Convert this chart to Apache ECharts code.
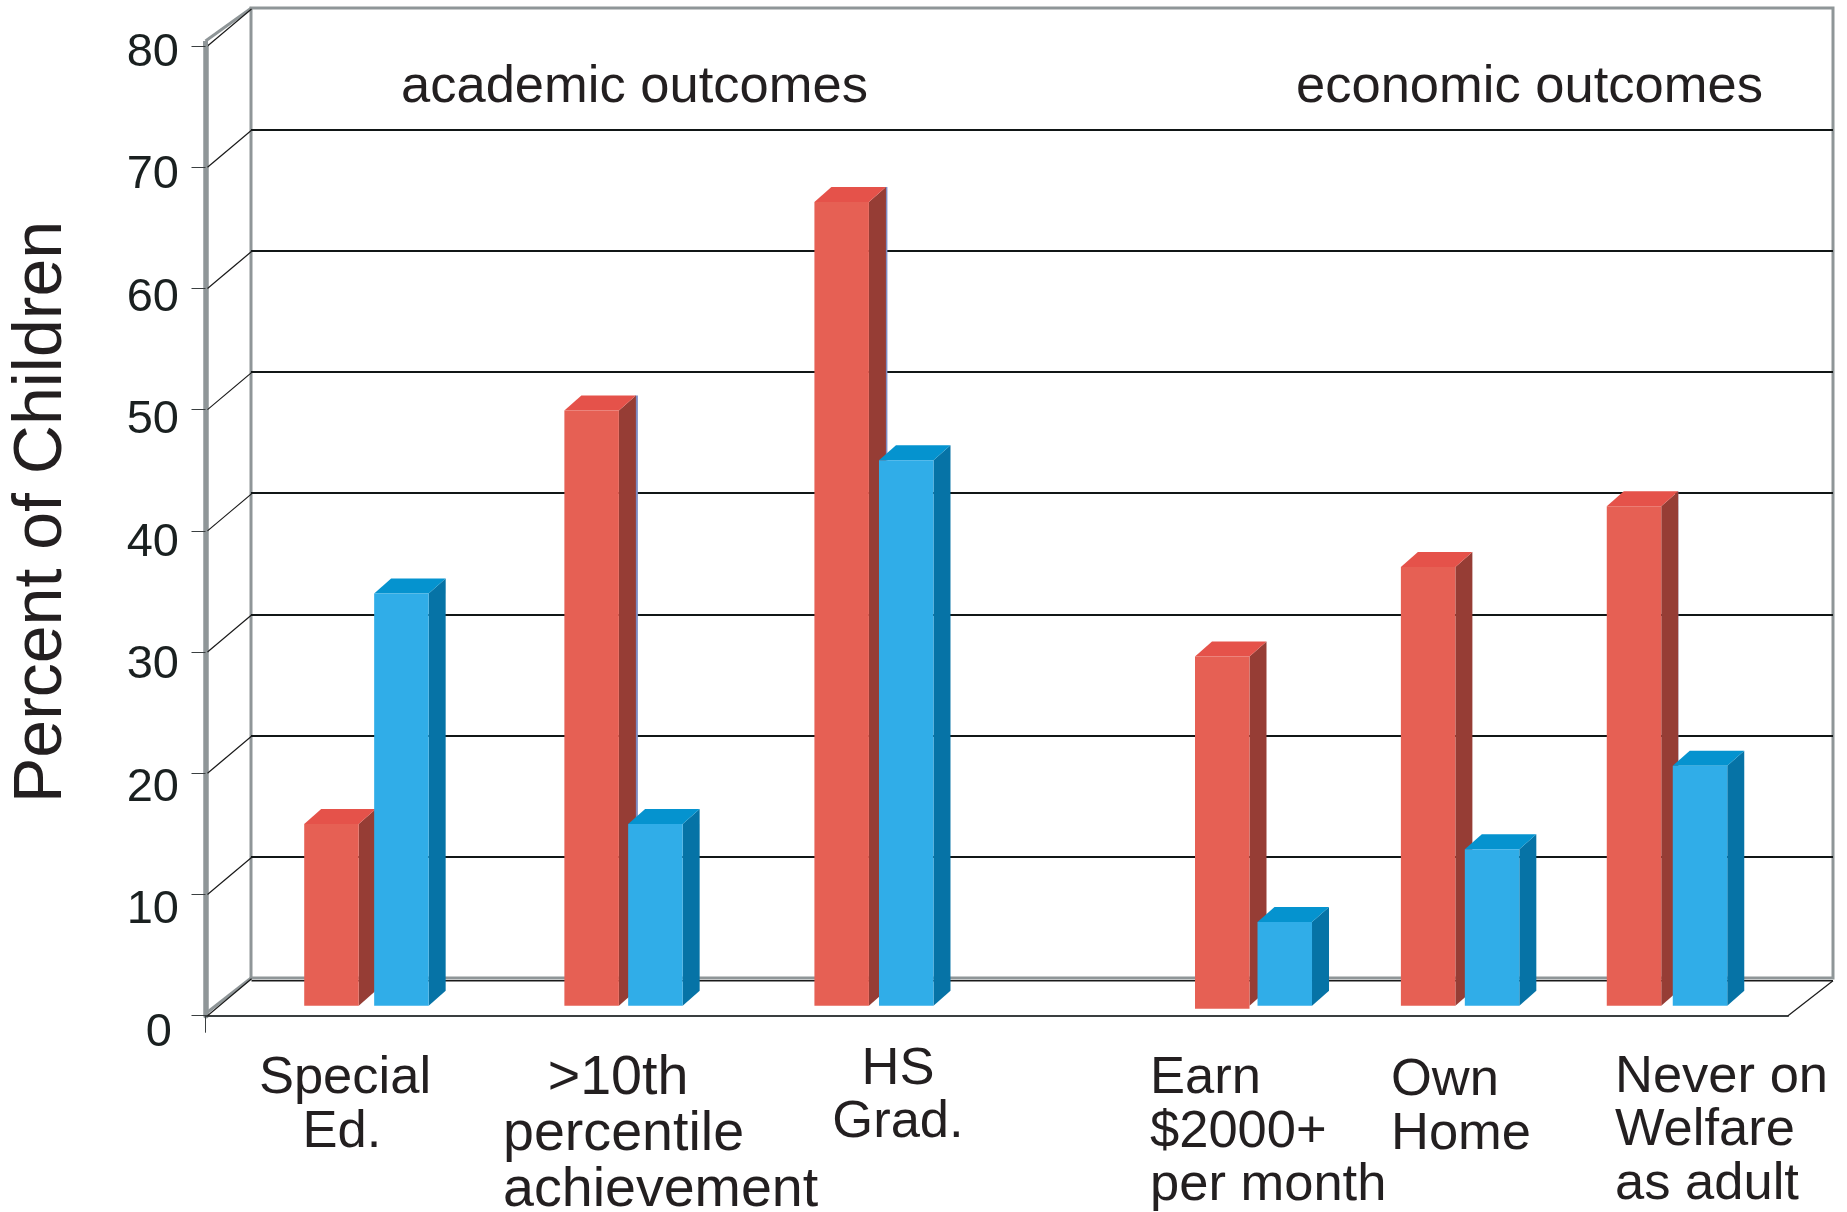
<!DOCTYPE html>
<html>
<head>
<meta charset="utf-8">
<style>html,body{margin:0;padding:0;background:#fff}#c{width:1847px;height:1212px}</style>
<script src="https://cdn.jsdelivr.net/npm/echarts@6/dist/echarts.min.js"></script>
</head>
<body>
<div id="c"></div>
<script>
// values (percent of children)
const treated = [15, 49.1, 66.3, 28.8, 36.2, 41.2];
const control = [34, 15, 45, 6.9, 12.9, 19.8];
// position of each bar along the (0-100) category span
const treatedSlots = [7.96, 24.4, 40.2, 64.25, 77.26, 90.27];
const controlSlots = [12.38, 28.43, 44.28, 68.2, 81.3, 94.44];
const yTicks = [0, 10, 20, 30, 40, 50, 60, 70, 80];
const sectionTitles = ['academic outcomes', 'economic outcomes'];
const categoryLines = [
  ['Special', 'Ed.'],
  ['>10th', 'percentile', 'achievement'],
  ['HS', 'Grad.'],
  ['Earn', '$2000+', 'per month'],
  ['Own', 'Home'],
  ['Never on', 'Welfare', 'as adult']
];
const yTitle = 'Percent of Children';

const FONT = '"Liberation Sans", Arial, sans-serif';
const INK = '#231f20';
const GREY = '#8f9698';
const DX = 46, DY = -37;          // depth of the box
const BAR_W = 54.5, BAR_DX = 17, BAR_DY = -15, BAR_LIFT = -10;
// small print artefacts of the original artwork
const edgeStrip = [0, 3, 2.5, 0, 0, 1];
const baseDrop = [0, 0, 0, 3, 0, 0];

// placement of label lines: [x, baseline, align]
const labelPlace = [
  [[345, 1093, 'center'], [342, 1147, 'center']],
  [[618, 1094, 'center'], [503, 1150, 'left'], [503, 1206, 'left']],
  [[898, 1084, 'center'], [898, 1137, 'center']],
  [[1150, 1093, 'left'], [1150, 1147, 'left'], [1150, 1200, 'left']],
  [[1391, 1095, 'left'], [1391, 1149, 'left']],
  [[1615, 1092, 'left'], [1615, 1145, 'left'], [1615, 1199, 'left']]
];
const labelSize = [52.5, 55.6, 52.5, 52.5, 52.5, 52.5];
const titlePlace = [[401, 102], [1296, 102]];

function textEl(t, x, baseline, size, align) {
  return {type: 'text', x: x, y: baseline - size * 0.781, z: 50,
    style: {text: t, fill: INK, font: size + 'px ' + FONT, textAlign: align, textVerticalAlign: 'top'}};
}
const textEls = [];
categoryLines.forEach((lines, i) => lines.forEach((t, j) => {
  const p = labelPlace[i][j];
  textEls.push(textEl(t, p[0], p[1], labelSize[i], p[2]));
}));
sectionTitles.forEach((t, i) => {
  textEls.push(textEl(t, titlePlace[i][0], titlePlace[i][1], 52.5, 'left'));
});

function barRender(front, side, top, withExtras) {
  return function (params, api) {
    const i = params.dataIndex;
    const xv = api.value(0), v = api.value(1);
    const b = api.coord([xv, 0]), t = api.coord([xv, v]);
    const l = b[0] - BAR_W / 2, r = b[0] + BAR_W / 2;
    const y0 = b[1] + BAR_LIFT, y1 = t[1] + BAR_LIFT;
    const kids = [];
    const strip = withExtras ? edgeStrip[i] : 0;
    const drop = withExtras ? baseDrop[i] : 0;
    if (strip) {
      kids.push({type: 'rect', shape: {x: r + BAR_DX - 1, y: y1 + BAR_DY, width: strip, height: y0 - y1},
        style: {fill: '#7f8cc4'}});
    }
    kids.push(
      {type: 'polygon', shape: {points: [[r, y0], [r + BAR_DX, y0 + BAR_DY], [r + BAR_DX, y1 + BAR_DY], [r, y1]]}, style: {fill: side}},
      {type: 'polygon', shape: {points: [[l, y1], [r, y1], [r + BAR_DX, y1 + BAR_DY], [l + BAR_DX, y1 + BAR_DY]]}, style: {fill: top}},
      {type: 'rect', shape: {x: l, y: y1, width: BAR_W, height: y0 - y1 + drop}, style: {fill: front}}
    );
    return {type: 'group', children: kids};
  };
}

function frameRender(params, api) {
  const v = api.value(0);
  const p = api.coord([0, v]);
  const kids = [{type: 'line', shape: {x1: p[0] + 2, y1: p[1], x2: p[0] + DX, y2: p[1] + DY},
    style: {stroke: '#1a1a1a', lineWidth: 1.2}}];
  if (v === 0 || v === 80) {
    kids.unshift({type: 'line', shape: {x1: p[0], y1: p[1] + (v ? -5 : -2), x2: p[0] + DX, y2: p[1] - 38},
      style: {stroke: GREY, lineWidth: 3}});
  }
  if (v === 80) {
    kids.push({type: 'line', shape: {x1: p[0], y1: p[1], x2: p[0], y2: p[1] - 5}, style: {stroke: GREY, lineWidth: 5}});
  }
  if (v === 0) {
    const e = api.coord([100, 0]);
    kids.push({type: 'line', shape: {x1: p[0] + DX, y1: p[1] + DY + 2, x2: e[0] + 45, y2: e[1] + DY + 2},
      style: {stroke: '#1a1a1a', lineWidth: 1.6}});
    kids.push({type: 'line', shape: {x1: e[0], y1: e[1], x2: e[0] + 45, y2: e[1] + DY + 2},
      style: {stroke: '#1a1a1a', lineWidth: 1.2}});
  }
  return {type: 'group', children: kids};
}

const chart = echarts.init(document.getElementById('c'), null, {renderer: 'canvas'});
chart.setOption({
  animation: false,
  backgroundColor: '#ffffff',
  graphic: {elements: textEls},
  grid: [
    {left: 205.5, right: 59, top: 46, height: 969.7},                 // front plane
    {left: 251, right: 14, top: 8, height: 970, show: true, borderColor: GREY, borderWidth: 3, backgroundColor: 'transparent'}, // back wall
    {left: 205.5, right: 59, top: 53, height: 980}                    // tick label column
  ],
  xAxis: [
    {gridIndex: 0, type: 'value', min: 0, max: 100, interval: 100,
      axisLine: {show: true, lineStyle: {color: '#3a3f40', width: 2}},
      axisTick: {show: true, customValues: [0], length: 17, lineStyle: {color: '#3a3f40', width: 1}},
      axisLabel: {show: false}, splitLine: {show: false}},
    {gridIndex: 1, type: 'value', min: 0, max: 100, show: false},
    {gridIndex: 2, type: 'value', min: 0, max: 100, show: false}
  ],
  yAxis: [
    {gridIndex: 0, type: 'value', min: 0, max: 80, interval: 10,
      axisLine: {show: true, lineStyle: {color: GREY, width: 5.5}},
      axisTick: {show: true, length: 14, lineStyle: {color: '#3a3f40', width: 1}},
      axisLabel: {show: false}, splitLine: {show: false}},
    {gridIndex: 1, type: 'value', min: 0, max: 80, interval: 10,
      axisLine: {show: false}, axisTick: {show: false}, axisLabel: {show: false},
      splitLine: {show: true, showMinLine: false, showMaxLine: false, lineStyle: {color: '#111616', width: 2}}},
    {gridIndex: 2, type: 'value', min: 0, max: 80, interval: 10,
      axisLine: {show: false}, axisTick: {show: false}, splitLine: {show: false},
      axisLabel: {show: true, margin: 26.5, color: '#1a2020', fontFamily: FONT, fontSize: 47,
        formatter: v => v === 0 ? '{z|0}' : String(v),
        rich: {z: {color: '#1a2020', fontFamily: FONT, fontSize: 47, padding: [0, 7, 0, 0]}}},
      name: yTitle, nameLocation: 'middle', nameGap: 129, nameRotate: 90, nameMoveOverlap: false,
      nameTextStyle: {color: INK, fontFamily: FONT, fontSize: 68, padding: [0, 0, 0, 62]}}
  ],
  series: [
    {type: 'custom', name: 'frame', xAxisIndex: 0, yAxisIndex: 0, z: 1, silent: true,
      data: yTicks.map(v => [v]), encode: {y: 0}, renderItem: frameRender},
    {type: 'custom', name: 'Treated', xAxisIndex: 0, yAxisIndex: 0, z: 3,
      data: treated.map((v, i) => [treatedSlots[i], v]), renderItem: barRender('#e66054', '#963d35', '#e5524a', true)},
    {type: 'custom', name: 'Control', xAxisIndex: 0, yAxisIndex: 0, z: 4,
      data: control.map((v, i) => [controlSlots[i], v]), renderItem: barRender('#30ade8', '#0673a6', '#0593cf', false)}
  ]
});
</script>
</body>
</html>
